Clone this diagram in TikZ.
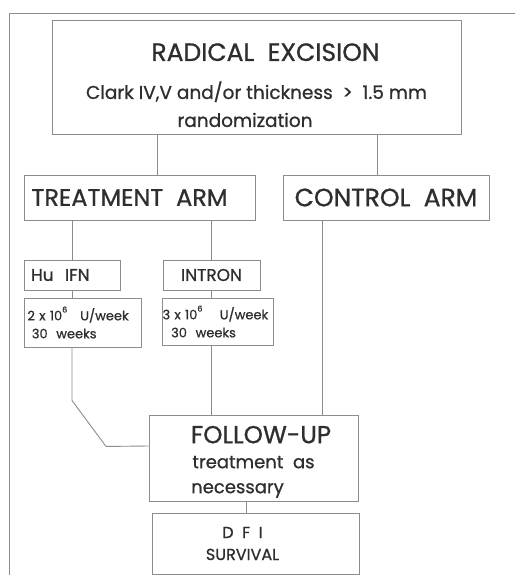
\documentclass[tikz,border=0pt]{standalone}
\usepackage{fontspec}
\setmainfont{Poppins}[FakeBold=0.9]
\usetikzlibrary{calc}
\definecolor{InkGray}{HTML}{2E2E2E}
\definecolor{RuleGray}{HTML}{8C8C8C}
\tikzset{
  stage/.style={draw=RuleGray, line width=0.9pt, align=center, inner sep=0pt, text=InkGray},
  armbox/.style={stage, font=\fontsize{24}{28}\selectfont},
  drugbox/.style={stage, font=\fontsize{17}{20}\selectfont},
  dosebox/.style={stage, align=left, font=\fontsize{13}{18}\selectfont},
  link/.style={draw=RuleGray, line width=0.9pt}
}

\begin{document}
\begin{tikzpicture}[x=1pt, y=-1pt]
\useasboundingbox (0,0) rectangle (515,575);
% outer frame
\draw[link] (9,575) -- (9,13) -- (515,13);

\node[stage, minimum width=409, minimum height=114, font=\fontsize{18.5}{28}\selectfont] (excision) at (256.5,77)
  {\mbox{}\\[6pt]
   \hspace*{18pt}{\fontsize{25}{30}\selectfont RADICAL\ \ EXCISION}\\[10pt]
   Clark\ IV,V\ and/or\ thickness \ >\ \ 1.5\ mm\\ randomization\hspace*{23pt}};

\node[armbox, minimum width=231, minimum height=45] (treatment) at (139.5,197.5) {TREATMENT\ \ ARM\hspace*{20pt}};
\node[armbox, minimum width=206, minimum height=45, font=\fontsize{25}{28}\selectfont] (control) at (386,197.5) {CONTROL\ \ ARM};

\node[drugbox, minimum height=30, text width=82, inner xsep=7, align=left] (huifn) at (72,275) {Hu\ \ IFN};
\node[drugbox, minimum width=97, minimum height=30] (intron) at (211.5,275) {INTRON};

\node[dosebox, minimum height=49, text width=110, inner xsep=3.5] (dose1) at (82.5,322.5)
  {2 x 10\raisebox{1.1ex}{\footnotesize 6}\ \ \ U/week\\\ 30\ \ weeks};
\node[dosebox, minimum height=47, text width=110, inner xsep=0.5] (dose2) at (217.5,321.5)
  {3 x 10\raisebox{1.1ex}{\footnotesize 6}\ \ \ \ U/week\\\ \ 30\ \ weeks};

\node[stage, minimum width=209, minimum height=86, font=\fontsize{18}{25}\selectfont] (followup) at (253.5,458)
  {\mbox{}\\
   \hspace*{15pt}{\fontsize{24.5}{30}\selectfont FOLLOW-UP}\\ treatment\ \ as\\ necessary\hspace*{32pt}};
\node[stage, minimum width=207, minimum height=61, font=\fontsize{16}{22}\selectfont] (dfi) at (255.5,543.5)
  {D\ \ F\ \ I\hspace*{26pt}\\ SURVIVAL\hspace*{26pt}};

% connectors
\draw[link] ([xshift=17.5]treatment.north) -- ([xshift=17.5]treatment.north |- excision.south);
\draw[link] ([xshift=-9]control.north) -- ([xshift=-9]control.north |- excision.south);
\draw[link] (huifn.north) -- (huifn.north |- treatment.south);
\draw[link] (intron.north) -- (intron.north |- treatment.south);
\draw[link] (huifn.south) -- (huifn.south |- dose1.north);
\draw[link] (intron.south) -- (intron.south |- dose2.north);
\draw[link] (huifn.south |- dose1.south) -- ++(0,53) -- ++(34,46) -- ([yshift=12]followup.west);
\draw[link] (intron.south |- dose2.south) -- (intron.south |- followup.north);
\draw[link] ([xshift=-64]control.south) -- ([xshift=-64]control.south |- followup.north);
\draw[link] ([xshift=-7.5]followup.south) -- ([xshift=-7.5]followup.south |- dfi.north);
\end{tikzpicture}
\end{document}
